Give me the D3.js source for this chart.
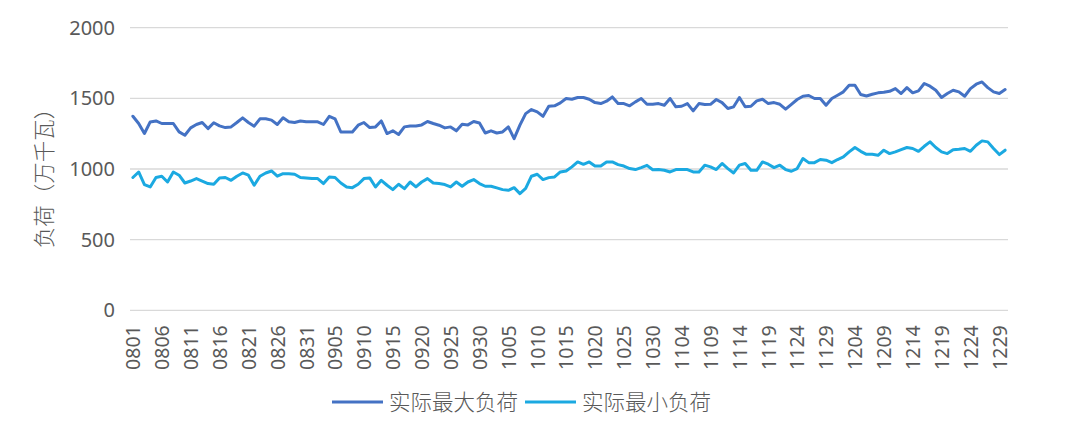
<!DOCTYPE html>
<html><head><meta charset="utf-8">
<script src="https://cdn.jsdelivr.net/npm/d3@7"></script>
<style>
html,body{margin:0;padding:0;background:#fff;}
svg{display:block;}
</style>
</head><body>
<svg id="chart" width="1080" height="421"></svg>
<script>
const dates = [
"0801","0802","0803","0804","0805","0806","0807","0808","0809","0810","0811","0812","0813","0814","0815","0816","0817","0818","0819","0820","0821","0822","0823","0824","0825","0826","0827","0828","0829","0830","0831",
"0901","0902","0903","0904","0905","0906","0907","0908","0909","0910","0911","0912","0913","0914","0915","0916","0917","0918","0919","0920","0921","0922","0923","0924","0925","0926","0927","0928","0929","0930",
"1001","1002","1003","1004","1005","1006","1007","1008","1009","1010","1011","1012","1013","1014","1015","1016","1017","1018","1019","1020","1021","1022","1023","1024","1025","1026","1027","1028","1029","1030","1031",
"1101","1102","1103","1104","1105","1106","1107","1108","1109","1110","1111","1112","1113","1114","1115","1116","1117","1118","1119","1120","1121","1122","1123","1124","1125","1126","1127","1128","1129","1130",
"1201","1202","1203","1204","1205","1206","1207","1208","1209","1210","1211","1212","1213","1214","1215","1216","1217","1218","1219","1220","1221","1222","1223","1224","1225","1226","1227","1228","1229","1230"
];
const maxLoad = [
1373,1322,1251,1333,1340,1322,1322,1322,1263,1239,1291,1315,1329,1286,1327,1305,1293,1298,1329,1362,1329,1303,1355,1355,1346,1315,1362,1334,1329,1340,
1334,1334,1334,1315,1373,1355,1262,1262,1262,1310,1329,1293,1298,1340,1251,1270,1244,1298,1305,1305,1312,1336,1322,1310,1291,1298,1270,1317,1312,1336,
1326,1255,1270,1255,1262,1298,1215,1310,1392,1421,1404,1373,1444,1447,1468,1499,1494,1506,1506,1494,1470,1463,1480,1510,1463,1463,1447,1475,1499,1458,
1458,1463,1451,1499,1440,1444,1463,1411,1463,1456,1458,1492,1470,1428,1440,1506,1440,1444,1482,1494,1463,1470,1458,1423,1458,1492,1515,1520,1499,1499,
1451,1499,1522,1546,1593,1593,1527,1517,1529,1539,1543,1550,1569,1534,1576,1539,1553,1605,1586,1557,1506,1534,1557,1546,1515,1569,1600,1616,1576,1546,1534,1562
];
const minLoad = [
940,979,890,873,940,949,908,979,956,901,915,932,915,897,892,937,940,920,949,972,956,885,949,972,986,949,967,967,963,940,
937,932,932,897,944,940,901,873,868,892,932,937,873,920,885,854,892,861,908,873,908,932,901,897,890,873,908,878,908,925,
897,878,878,866,854,849,868,826,863,949,963,925,939,944,979,986,1015,1050,1033,1050,1021,1021,1050,1050,1031,1021,1003,996,1010,1026,
995,996,991,979,996,996,996,979,979,1027,1015,996,1039,1003,972,1027,1039,991,991,1050,1034,1010,1027,996,984,1003,1074,1045,1045,1067,
1062,1045,1067,1085,1121,1152,1125,1104,1104,1097,1133,1109,1121,1137,1152,1145,1125,1161,1192,1152,1121,1109,1137,1140,1145,1125,1168,1199,1192,1145,1102,1133
];
const yTicks = [0,500,1000,1500,2000];
const xTickLabels = ["0801","0806","0811","0816","0821","0826","0831","0905","0910","0915","0920","0925","0930","1005","1010","1015","1020","1025","1030","1104","1109","1114","1119","1124","1129","1204","1209","1214","1219","1224","1229"];
const seriesNames = ["实际最大负荷","实际最小负荷"];
const yTitle = "负荷（万千瓦）";

(function(){
const colors = ["#4472C4","#1BA9E1"];
const svg = d3.select("#chart");
const pL = 130, pR = 1008, pT = 27.7, pB = 310.3;
const x = d3.scalePoint().domain(dates).range([pL, pR]).padding(0.5);
const y = d3.scaleLinear().domain([0,2000]).range([pB, pT]);
const textColor = "#595959";
const numFont = "'Noto Sans', 'Liberation Sans', sans-serif";
const cjkFont = "'Noto Sans CJK SC', sans-serif";

svg.append("g").selectAll("line").data(yTicks).join("line")
  .attr("x1", pL).attr("x2", pR)
  .attr("y1", d => y(d)).attr("y2", d => y(d))
  .attr("stroke", "#d9d9d9").attr("stroke-width", 1.3);

const yAxis = svg.append("g").attr("transform", `translate(${pL},0)`)
  .call(d3.axisLeft(y).tickValues(yTicks).tickFormat(d3.format("d")).tickSize(0).tickPadding(15));
yAxis.select(".domain").remove();
yAxis.selectAll("text").attr("fill", textColor).style("font-family", numFont).style("font-size", "20px");

const xAxis = svg.append("g").attr("transform", `translate(0,${pB})`)
  .call(d3.axisBottom(x).tickValues(xTickLabels).tickSize(0));
xAxis.select(".domain").remove();
xAxis.selectAll("text")
  .attr("fill", textColor).style("font-family", numFont).style("font-size", "19.5px")
  .attr("transform", "rotate(-90)")
  .attr("x", -15).attr("y", 0).attr("dy", "0.35em")
  .attr("text-anchor", "end");

svg.append("text")
  .attr("transform", `translate(52,173) rotate(-90)`)
  .attr("text-anchor", "middle")
  .attr("fill", textColor)
  .style("font-family", cjkFont).style("font-weight", 300).style("font-size", "21.5px")
  .text(yTitle);

const line = d3.line().x((d,i) => x(dates[i])).y(d => y(d));
[maxLoad, minLoad].forEach((s, k) => {
  svg.append("path").datum(s)
    .attr("d", line).attr("fill", "none")
    .attr("stroke", colors[k]).attr("stroke-width", 3)
    .attr("stroke-linejoin", "round").attr("stroke-linecap", "round");
});

const legendX = [332, 525];
seriesNames.forEach((n, k) => {
  const g = svg.append("g").attr("transform", `translate(${legendX[k]},402)`);
  g.append("line").attr("x1", 0).attr("x2", 51).attr("y1", 0).attr("y2", 0)
    .attr("stroke", colors[k]).attr("stroke-width", 3);
  g.append("text").attr("x", 57).attr("y", 0).attr("dy", "0.36em")
    .attr("fill", textColor)
    .style("font-family", cjkFont).style("font-weight", 300).style("font-size", "21.5px")
    .text(n);
});
})();
</script>
</body></html>
